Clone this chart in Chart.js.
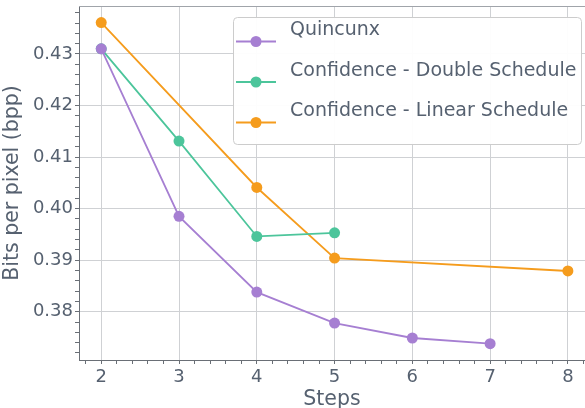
<!DOCTYPE html>
<html>
<head>
<meta charset="utf-8">
<script src="https://cdn.jsdelivr.net/npm/chart.js@4.4.0/dist/chart.umd.min.js"></script>
<style>
  html, body { margin: 0; padding: 0; background: #fff; }
  #wrap { width: 585px; height: 408px; }
</style>
</head>
<body>
<div id="wrap"><canvas id="c" width="585" height="408"></canvas></div>
<script>
const seriesNames = ["Quincunx", "Confidence - Double Schedule", "Confidence - Linear Schedule"];
const seriesColors = ["#a67fd2", "#4cc59b", "#f59c1d"];

const quincunxSteps = [2, 3, 4, 5, 6, 7];
const quincunxBpp = [0.4310, 0.3985, 0.3838, 0.3778, 0.3749, 0.3738];

const doubleSteps = [2, 3, 4, 5];
const doubleBpp = [0.4310, 0.4131, 0.3946, 0.3953];

const linearSteps = [2, 4, 5, 8];
const linearBpp = [0.4361, 0.4041, 0.3904, 0.3879];

const xTicks = [2, 3, 4, 5, 6, 7, 8];
const yTicks = [0.38, 0.39, 0.40, 0.41, 0.42, 0.43];
const xMinorStep = 0.2;
const yMinorStep = 0.002;

const textColor = "#566170";
const fontFamily = "'DejaVu Sans', sans-serif";

function pts(xs, ys) {
  return xs.map((x, i) => ({ x: x, y: ys[i] }));
}

const data = [pts(quincunxSteps, quincunxBpp), pts(doubleSteps, doubleBpp), pts(linearSteps, linearBpp)];

function isMajor(v, list) {
  return list.some(t => Math.abs(t - v) < 1e-6);
}

function allTicks(min, max, step) {
  const out = [];
  for (let v = Math.ceil(min / step - 1e-9) * step; v <= max + 1e-9; v += step) {
    out.push({ value: Math.round(v / step) * step });
  }
  return out;
}

// box legend drawn on canvas, like the reference
const legendBox = {
  id: "legendBox",
  afterDraw(chart) {
    const ctx = chart.ctx;
    const x0 = 233.5, y0 = 17.5, w = 348, h = 127, r = 4;
    ctx.save();
    ctx.beginPath();
    ctx.roundRect(x0, y0, w, h, r);
    ctx.fillStyle = "rgba(255,255,255,0.95)";
    ctx.fill();
    ctx.strokeStyle = "#cccccc";
    ctx.lineWidth = 1;
    ctx.stroke();
    ctx.font = "19px " + fontFamily;
    ctx.textBaseline = "alphabetic";
    seriesNames.forEach((name, i) => {
      const ly = 41.5 + i * 40.5;
      ctx.strokeStyle = seriesColors[i];
      ctx.lineWidth = 2;
      ctx.beginPath();
      ctx.moveTo(236, ly);
      ctx.lineTo(276, ly);
      ctx.stroke();
      ctx.fillStyle = seriesColors[i];
      ctx.beginPath();
      ctx.arc(256, ly, 5.5, 0, Math.PI * 2);
      ctx.fill();
      ctx.fillStyle = textColor;
      ctx.fillText(name, 290, 35 + i * 40.5);
    });
    ctx.restore();
  }
};

// top frame line of the plot
const topFrame = {
  id: "topFrame",
  beforeDatasetsDraw(chart) {
    const a = chart.chartArea, ctx = chart.ctx;
    ctx.save();
    ctx.strokeStyle = "#a0a4aa";
    ctx.lineWidth = 1;
    ctx.beginPath();
    ctx.moveTo(a.left, a.top + 0.5);
    ctx.lineTo(a.right, a.top + 0.5);
    ctx.stroke();
    ctx.restore();
  }
};

new Chart(document.getElementById("c"), {
  type: "line",
  data: {
    datasets: seriesNames.map((name, i) => ({
      label: name,
      data: data[i],
      borderColor: seriesColors[i],
      backgroundColor: seriesColors[i],
      pointBackgroundColor: seriesColors[i],
      pointBorderWidth: 0,
      pointRadius: 5.5,
      borderWidth: 1.8,
      tension: 0,
      fill: false,
      clip: false
    }))
  },
  options: {
    responsive: false,
    animation: false,
    layout: { autoPadding: false, padding: { top: 6, right: 0, left: 0, bottom: 0 } },
    plugins: {
      legend: { display: false },
      tooltip: { enabled: false }
    },
    scales: {
      x: {
        type: "linear",
        min: 1.714,
        max: 8.22,
        afterBuildTicks: s => { s.ticks = allTicks(s.min, s.max, xMinorStep); },
        afterFit: s => { s.height = 48; s.paddingLeft = 0; s.paddingRight = 0; },
        ticks: {
          autoSkip: false,
          maxRotation: 0,
          padding: 3,
          color: textColor,
          font: { family: fontFamily, size: 18 },
          callback: v => isMajor(v, xTicks) ? String(Math.round(v)) : ""
        },
        grid: {
          color: c => isMajor(c.tick.value, xTicks) ? "#cfd1d4" : "rgba(0,0,0,0)",
          tickColor: "#6a6f76",
          tickLength: 4,
          lineWidth: 1
        },
        border: { color: "#6a6f76", width: 1 },
        title: {
          display: true,
          text: "Steps",
          color: textColor,
          font: { family: fontFamily, size: 20.5 },
          padding: { top: 0, bottom: -4 }
        }
      },
      y: {
        min: 0.37063,
        max: 0.43931,
        afterBuildTicks: s => { s.ticks = allTicks(s.min, s.max, yMinorStep); },
        afterFit: s => { s.width = 79; s.paddingTop = 0; s.paddingBottom = 0; },
        ticks: {
          autoSkip: false,
          padding: 2,
          color: textColor,
          font: { family: fontFamily, size: 18 },
          callback: v => isMajor(v, yTicks) ? v.toFixed(2) : ""
        },
        grid: {
          color: c => isMajor(c.tick.value, yTicks) ? "#cfd1d4" : "rgba(0,0,0,0)",
          tickColor: "#6a6f76",
          tickLength: 4,
          lineWidth: 1
        },
        border: { color: "#6a6f76", width: 1 },
        title: {
          display: true,
          text: "Bits per pixel (bpp)",
          color: textColor,
          font: { family: fontFamily, size: 20.5 },
          padding: { top: 0, bottom: 5 }
        }
      }
    }
  },
  plugins: [topFrame, legendBox]
});
</script>
</body>
</html>
